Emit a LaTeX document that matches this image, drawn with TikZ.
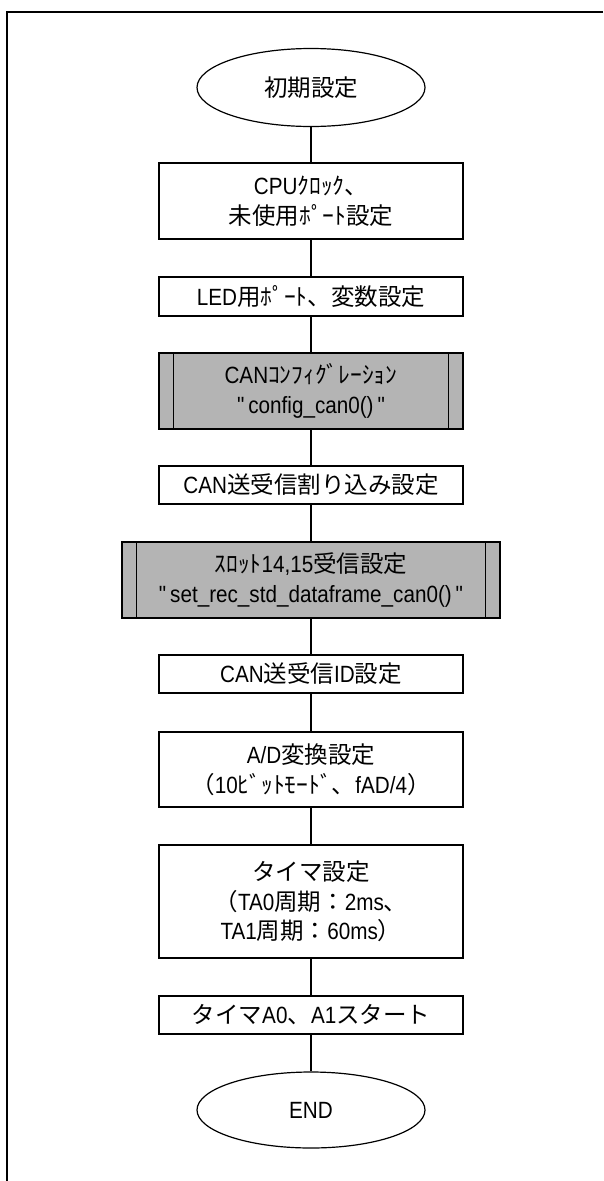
\documentclass[tikz,border=0pt]{standalone}
\usepackage{fontspec}
\setmainfont{Liberation Sans}[Ligatures=TeXOff, FakeStretch=0.88]
\newfontfamily\jp{Noto Sans CJK JP}
\usetikzlibrary{shapes.geometric}
\definecolor{subgray}{RGB}{180,180,180}
\newcommand{\qq}{"}
\tikzset{
  every node/.style={font=\fontsize{23.5}{29.5}\selectfont},
  proc/.style={draw, line width=1.2pt, fill=white, minimum width=304pt, align=center, inner sep=0pt},
  subr/.style={proc, fill=subgray},
  term/.style={draw, ellipse, line width=1.2pt, fill=white, minimum width=228pt, minimum height=78pt, inner sep=0pt},
  link/.style={line width=1.2pt},
}
\begin{document}
\begin{tikzpicture}[x=1pt,y=-1pt]
\useasboundingbox (0,0) rectangle (603,1181);
\draw[link] (603,12) -- (7,12) -- (7,1181);

\node[term] (start) at (311,87.5) {\jp 初期設定};
\node[proc, minimum height=76pt] (cpu) at (311,201) {CPU{\jp ｸﾛｯｸ、}\\{\jp 未使用ﾎﾟｰﾄ設定}};
\node[proc, minimum height=39pt] (led) at (311,296.5) {LED{\jp 用ﾎﾟｰﾄ、変数設定}};
\node[subr, minimum height=76pt] (cfg) at (311,391) {CAN{\jp ｺﾝﾌｨｸﾞﾚｰｼｮﾝ}\\"\,config\_can0()\,"};
\node[proc, minimum height=38pt] (irq) at (311,485) {CAN{\jp 送受信割り込み設定}};
\node[subr, minimum width=378pt, minimum height=76pt] (slot) at (311,580) {{\jp ｽﾛｯﾄ}14,15{\jp 受信設定}\\"\,set\_rec\_std\_dataframe\_can0()\,"};
\node[proc, minimum height=38pt] (canid) at (311,674) {CAN{\jp 送受信}ID{\jp 設定}};
\node[proc, minimum height=75pt] (ad) at (311,769.5) {A/D{\jp 変換設定}\\{\jp （}10{\jp ﾋﾞｯﾄﾓｰﾄﾞ、}fAD/4{\jp ）}};
\node[proc, minimum height=113pt] (timer) at (311,901.5) {{\jp タイマ設定}\\{\jp （}TA0{\jp 周期：}2ms{\jp 、}\\TA1{\jp 周期：}60ms{\jp ）}};
\node[proc, minimum height=38pt] (tstart) at (311,1015) {{\jp タイマ}A0{\jp 、}A1{\jp スタート}};
\node[term, minimum height=76pt] (end) at (311,1110) {END};

\foreach \n in {cfg,slot}{
  \draw[link] ([xshift=15pt]\n.north west) -- ([xshift=15pt]\n.south west);
  \draw[link] ([xshift=-15pt]\n.north east) -- ([xshift=-15pt]\n.south east);
}

\draw[link] (start.south) -- (cpu.north);
\draw[link] (cpu.south) -- (led.north);
\draw[link] (led.south) -- (cfg.north);
\draw[link] (cfg.south) -- (irq.north);
\draw[link] (irq.south) -- (slot.north);
\draw[link] (slot.south) -- (canid.north);
\draw[link] (canid.south) -- (ad.north);
\draw[link] (ad.south) -- (timer.north);
\draw[link] (timer.south) -- (tstart.north);
\draw[link] (tstart.south) -- (end.north);
\end{tikzpicture}
\end{document}
